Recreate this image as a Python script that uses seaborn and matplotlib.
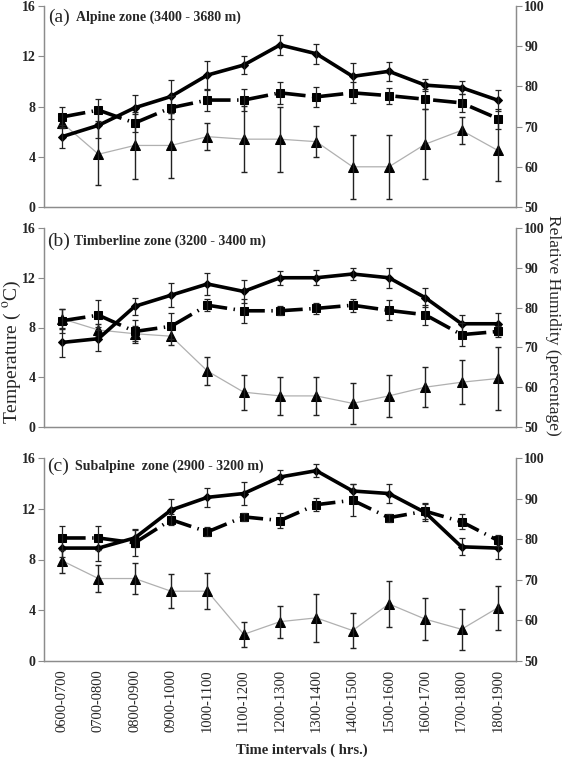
import numpy as np
import pandas as pd
import matplotlib
matplotlib.use('Agg')
import matplotlib.pyplot as plt
import seaborn as sns

sns.set_style('white')
plt.rcParams['font.family'] = ['Liberation Serif', 'DejaVu Serif']
plt.rcParams['mathtext.fontset'] = 'stix'

intervals = ['0600-0700', '0700-0800', '0800-0900', '0900-1000', '1000-1100',
             '1100-1200', '1200-1300', '1300-1400', '1400-1500', '1500-1600',
             '1600-1700', '1700-1800', '1800-1900']
temp_ticks = [0, 4, 8, 12, 16]
rh_ticks = [50, 60, 70, 80, 90, 100]

# (a) Alpine zone
alpine_temp = [5.6, 6.5, 7.9, 8.8, 10.5, 11.3, 12.9, 12.2, 10.4, 10.8, 9.7, 9.5, 8.5]
alpine_temp_err = [0.9, 1.0, 1.0, 1.3, 1.1, 0.75, 0.8, 0.8, 1.1, 0.75, 0.5, 0.5, 0.85]
alpine_rh = [72.4, 74.1, 70.9, 74.7, 76.6, 76.6, 78.4, 77.4, 78.4, 77.7, 76.8, 75.9, 72.0]
alpine_rh_err = [2.5, 2.7, 2.3, 2.8, 2.6, 2.8, 2.8, 2.5, 2.6, 2.0, 2.5, 2.2, 2.5]
alpine_soil = [6.7, 4.2, 4.9, 4.9, 5.6, 5.4, 5.4, 5.2, 3.2, 3.2, 5.0, 6.1, 4.5]
alpine_soil_err = [0.4, 2.45, 2.65, 2.6, 1.1, 2.65, 2.6, 1.25, 2.55, 2.55, 2.8, 1.1, 2.45]

# (b) Timberline zone
timber_temp = [6.8, 7.1, 9.7, 10.6, 11.5, 10.9, 12.0, 12.0, 12.3, 12.0, 10.4, 8.3, 8.3]
timber_temp_err = [1.15, 0.95, 0.7, 0.95, 0.85, 0.9, 0.55, 0.6, 0.5, 0.8, 0.75, 0.7, 0.9]
timber_rh = [76.7, 78.1, 74.0, 75.3, 80.6, 79.2, 79.2, 79.8, 80.6, 79.3, 78.2, 73.2, 74.0]
timber_rh_err = [3.0, 3.7, 2.8, 3.3, 1.5, 3.0, 1.1, 1.4, 1.6, 2.5, 2.5, 2.9, 1.5]
timber_soil = [8.7, 7.8, 7.5, 7.3, 4.5, 2.8, 2.5, 2.5, 1.9, 2.5, 3.2, 3.6, 3.9]
timber_soil_err = [0.8, 0.5, 0.6, 0.7, 1.1, 1.4, 1.5, 1.5, 1.65, 1.7, 1.6, 1.75, 2.55]

# (c) Subalpine zone
subalp_temp = [8.9, 8.9, 9.7, 11.9, 12.9, 13.2, 14.5, 15.0, 13.4, 13.2, 11.7, 9.0, 8.9]
subalp_temp_err = [0.7, 1.0, 0.7, 0.86, 0.76, 0.9, 0.52, 0.53, 0.53, 0.73, 0.7, 0.66, 0.85]
subalp_rh = [80.3, 80.3, 79.1, 84.8, 81.8, 85.5, 84.6, 88.5, 89.6, 85.3, 86.9, 84.3, 79.7]
subalp_rh_err = [3.0, 3.0, 3.2, 1.3, 1.1, 1.0, 1.9, 1.6, 4.0, 1.0, 1.9, 1.9, 1.3]
subalp_soil = [7.9, 6.5, 6.5, 5.5, 5.5, 2.1, 3.1, 3.4, 2.4, 4.5, 3.3, 2.5, 4.2]
subalp_soil_err = [0.97, 1.05, 1.2, 1.35, 1.4, 1.0, 1.25, 1.9, 1.4, 1.8, 1.65, 1.6, 1.75]

pos = np.arange(len(intervals))
spine_col = '#8c8c8c'


def draw_panel(ax, letter, title, title_x, title_y, temp, temp_err, rh, rh_err,
               soil, soil_err, show_x=False):
    # thin grey line with triangles
    sns.lineplot(x=pos, y=soil, ax=ax, color='#b0b0b0', lw=0.9, marker='^',
                 markersize=6.5, markerfacecolor='black', markeredgecolor='black')
    ax.errorbar(pos, soil, yerr=soil_err, fmt='none', ecolor='#222222',
                elinewidth=1.0, capsize=2.5, capthick=1.0)
    # air temperature: thick solid line
    sns.lineplot(x=pos, y=temp, ax=ax, color='black', lw=2.6, marker='D',
                 markersize=4, markerfacecolor='black', markeredgecolor='black')
    ax.errorbar(pos, temp, yerr=temp_err, fmt='none', ecolor='#222222',
                elinewidth=0.9, capsize=2.5, capthick=0.9)

    ax.set_xlim(-0.5, 12.5)
    ax.set_ylim(0, 16)
    ax.set_yticks(temp_ticks, labels=[str(t) for t in temp_ticks],
                  fontweight='bold', fontsize=10)

    # relative humidity on the right axis
    ax2 = ax.twinx()
    sns.lineplot(x=pos, y=rh, ax=ax2, color='black', lw=2.6, marker='s',
                 markersize=6, markerfacecolor='black', markeredgecolor='black',
                 linestyle=(0, (6.5, 1.8, 0.4, 1.8)))
    ax2.errorbar(pos, rh, yerr=rh_err, fmt='none', ecolor='#222222',
                 elinewidth=0.9, capsize=2.5, capthick=0.9)
    ax2.set_ylim(50, 100)
    ax2.set_yticks(rh_ticks, labels=[str(t) for t in rh_ticks],
                   fontweight='bold', fontsize=10)
    ax2.set_xlim(-0.5, 12.5)

    for a in (ax, ax2):
        a.set_xlabel('')
        a.set_ylabel('')
        a.spines['top'].set_visible(False)
        for s in ('left', 'right', 'bottom'):
            a.spines[s].set_color(spine_col)
            a.spines[s].set_linewidth(0.9)
    ax.tick_params(axis='y', direction='out', length=4, color=spine_col, pad=2)
    ax2.tick_params(axis='y', direction='out', length=4, color=spine_col, pad=2)

    ax.set_xticks(pos)
    ax.set_xticks(np.arange(-0.5, 13, 1), minor=True)
    ax.tick_params(axis='x', which='major', length=0, pad=6)
    ax.tick_params(axis='x', which='minor', direction='inout', length=5,
                   color=spine_col)
    if show_x:
        ax.set_xticklabels(intervals, rotation=90, fontsize=10.5)
    else:
        ax.set_xticklabels([])

    ax.text(title_x[0], title_y, letter, transform=ax.transAxes, fontsize=14,
            va='center', ha='left')
    ax.text(title_x[1], title_y, title, transform=ax.transAxes, fontsize=10,
            fontweight='bold', va='center', ha='left')


fig = plt.figure(figsize=(5.67, 7.58), dpi=100)
left, width = 44 / 567, 472 / 567
ax_a = fig.add_axes([left, 1 - 207 / 758, width, 201 / 758])
ax_b = fig.add_axes([left, 1 - 427 / 758, width, 199 / 758])
ax_c = fig.add_axes([left, 1 - 661 / 758, width, 203 / 758])

draw_panel(ax_a, '(a)', 'Alpine zone (3400 - 3680 m)', (0.008, 0.068), 0.945,
           alpine_temp, alpine_temp_err, alpine_rh, alpine_rh_err,
           alpine_soil, alpine_soil_err)
draw_panel(ax_b, '(b)', 'Timberline zone (3200 - 3400 m)', (0.006, 0.064), 0.932,
           timber_temp, timber_temp_err, timber_rh, timber_rh_err,
           timber_soil, timber_soil_err)
draw_panel(ax_c, '(c)', 'Subalpine  zone (2900 - 3200 m)', (0.006, 0.066), 0.958,
           subalp_temp, subalp_temp_err, subalp_rh, subalp_rh_err,
           subalp_soil, subalp_soil_err, show_x=True)

fig.text(12 / 567, 1 - 352 / 758, 'Temperature ( $^{\\mathrm{o}}$C)', rotation=90,
         ha='center', va='center', fontsize=14)
fig.text(553 / 567, 1 - 325 / 758, 'Relative Humidity (percentage)', rotation=270,
         ha='center', va='center', fontsize=12.5)
fig.text(302 / 567, 1 - 750 / 758, 'Time intervals ( hrs.)', ha='center',
         va='center', fontsize=10.5, fontweight='bold')

fig.savefig('out.png', dpi=100)
